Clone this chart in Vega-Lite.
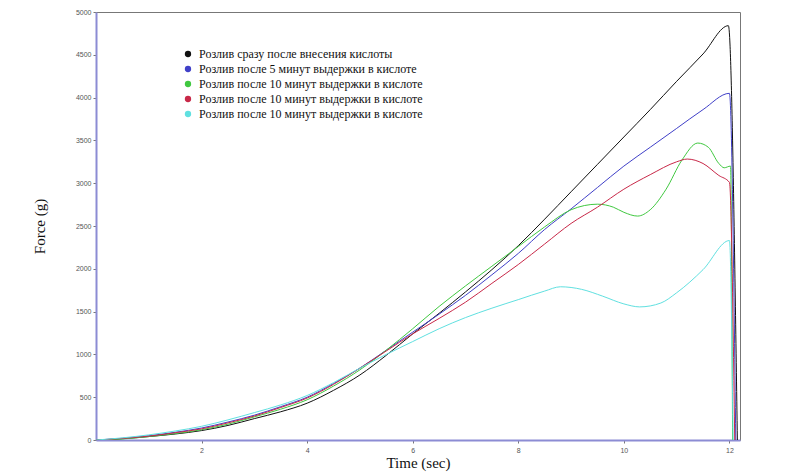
{
  "$schema": "https://vega.github.io/schema/vega-lite/v6.json",
  "width": 644,
  "height": 428,
  "autosize": "none",
  "padding": {"left": 96, "top": 12, "right": 60, "bottom": 34},
  "background": "white",
  "config": {
    "view": {"stroke": "#777777", "strokeWidth": 1},
    "axis": {
      "grid": false,
      "domainColor": "#8c8cd4",
      "domainWidth": 2,
      "tickColor": "#777777",
      "tickSize": 3,
      "labelColor": "#555555",
      "labelFont": "Liberation Sans",
      "labelFontSize": 7,
      "titleFont": "Liberation Serif",
      "titleFontSize": 15,
      "titleFontWeight": "normal",
      "titleColor": "#111111"
    }
  },
  "data": {
    "values": [
      {"s": "s1", "t": 0, "f": 0}, {"s": "s1", "t": 0.5, "f": 15}, {"s": "s1", "t": 1, "f": 40}, {"s": "s1", "t": 1.5, "f": 70},
      {"s": "s1", "t": 2, "f": 110}, {"s": "s1", "t": 2.5, "f": 170}, {"s": "s1", "t": 3, "f": 250}, {"s": "s1", "t": 3.5, "f": 330},
      {"s": "s1", "t": 4, "f": 430}, {"s": "s1", "t": 4.5, "f": 580}, {"s": "s1", "t": 5, "f": 760}, {"s": "s1", "t": 5.5, "f": 990},
      {"s": "s1", "t": 6, "f": 1240}, {"s": "s1", "t": 6.5, "f": 1480}, {"s": "s1", "t": 7, "f": 1730}, {"s": "s1", "t": 7.5, "f": 1990},
      {"s": "s1", "t": 8, "f": 2270}, {"s": "s1", "t": 8.5, "f": 2580}, {"s": "s1", "t": 9, "f": 2900}, {"s": "s1", "t": 9.5, "f": 3220},
      {"s": "s1", "t": 10, "f": 3540}, {"s": "s1", "t": 10.5, "f": 3860}, {"s": "s1", "t": 11, "f": 4190}, {"s": "s1", "t": 11.5, "f": 4510},
      {"s": "s1", "t": 11.98, "f": 4840}, {"s": "s1", "t": 12.15, "f": 0},

      {"s": "s2", "t": 0, "f": 0}, {"s": "s2", "t": 0.5, "f": 20}, {"s": "s2", "t": 1, "f": 50}, {"s": "s2", "t": 1.5, "f": 90},
      {"s": "s2", "t": 2, "f": 140}, {"s": "s2", "t": 2.5, "f": 210}, {"s": "s2", "t": 3, "f": 290}, {"s": "s2", "t": 3.5, "f": 390},
      {"s": "s2", "t": 4, "f": 500}, {"s": "s2", "t": 4.5, "f": 660}, {"s": "s2", "t": 5, "f": 840}, {"s": "s2", "t": 5.5, "f": 1050},
      {"s": "s2", "t": 6, "f": 1260}, {"s": "s2", "t": 6.5, "f": 1470}, {"s": "s2", "t": 7, "f": 1690}, {"s": "s2", "t": 7.5, "f": 1930},
      {"s": "s2", "t": 8, "f": 2180}, {"s": "s2", "t": 8.5, "f": 2460}, {"s": "s2", "t": 9, "f": 2700}, {"s": "s2", "t": 9.5, "f": 2950},
      {"s": "s2", "t": 10, "f": 3200}, {"s": "s2", "t": 10.5, "f": 3420}, {"s": "s2", "t": 11, "f": 3640}, {"s": "s2", "t": 11.5, "f": 3860},
      {"s": "s2", "t": 12, "f": 4050}, {"s": "s2", "t": 12.12, "f": 0},

      {"s": "s3", "t": 0, "f": 0}, {"s": "s3", "t": 0.5, "f": 12}, {"s": "s3", "t": 1, "f": 40}, {"s": "s3", "t": 1.5, "f": 75},
      {"s": "s3", "t": 2, "f": 120}, {"s": "s3", "t": 2.5, "f": 185}, {"s": "s3", "t": 3, "f": 270}, {"s": "s3", "t": 3.5, "f": 360},
      {"s": "s3", "t": 4, "f": 470}, {"s": "s3", "t": 4.5, "f": 630}, {"s": "s3", "t": 5, "f": 820}, {"s": "s3", "t": 5.5, "f": 1050},
      {"s": "s3", "t": 6, "f": 1300}, {"s": "s3", "t": 6.5, "f": 1560}, {"s": "s3", "t": 7, "f": 1800}, {"s": "s3", "t": 7.5, "f": 2030},
      {"s": "s3", "t": 8, "f": 2260}, {"s": "s3", "t": 8.5, "f": 2490}, {"s": "s3", "t": 9, "f": 2690}, {"s": "s3", "t": 9.5, "f": 2755},
      {"s": "s3", "t": 9.8, "f": 2720}, {"s": "s3", "t": 10, "f": 2660}, {"s": "s3", "t": 10.26, "f": 2616}, {"s": "s3", "t": 10.5, "f": 2690},
      {"s": "s3", "t": 10.8, "f": 2930}, {"s": "s3", "t": 11.1, "f": 3270}, {"s": "s3", "t": 11.4, "f": 3469}, {"s": "s3", "t": 11.6, "f": 3420},
      {"s": "s3", "t": 11.8, "f": 3230}, {"s": "s3", "t": 11.9, "f": 3180}, {"s": "s3", "t": 12.02, "f": 3200}, {"s": "s3", "t": 12.06, "f": 0},

      {"s": "s4", "t": 0, "f": 0}, {"s": "s4", "t": 0.5, "f": 18}, {"s": "s4", "t": 1, "f": 45}, {"s": "s4", "t": 1.5, "f": 85},
      {"s": "s4", "t": 2, "f": 130}, {"s": "s4", "t": 2.5, "f": 200}, {"s": "s4", "t": 3, "f": 280}, {"s": "s4", "t": 3.5, "f": 380},
      {"s": "s4", "t": 4, "f": 490}, {"s": "s4", "t": 4.5, "f": 650}, {"s": "s4", "t": 5, "f": 840}, {"s": "s4", "t": 5.5, "f": 1040},
      {"s": "s4", "t": 6, "f": 1240}, {"s": "s4", "t": 6.5, "f": 1420}, {"s": "s4", "t": 7, "f": 1610}, {"s": "s4", "t": 7.5, "f": 1830},
      {"s": "s4", "t": 8, "f": 2050}, {"s": "s4", "t": 8.5, "f": 2290}, {"s": "s4", "t": 9, "f": 2530}, {"s": "s4", "t": 9.5, "f": 2720},
      {"s": "s4", "t": 10, "f": 2930}, {"s": "s4", "t": 10.5, "f": 3100}, {"s": "s4", "t": 11, "f": 3250}, {"s": "s4", "t": 11.2, "f": 3282},
      {"s": "s4", "t": 11.5, "f": 3230}, {"s": "s4", "t": 11.8, "f": 3090}, {"s": "s4", "t": 12, "f": 3010}, {"s": "s4", "t": 12.1, "f": 0},

      {"s": "s5", "t": 0, "f": 0}, {"s": "s5", "t": 0.5, "f": 25}, {"s": "s5", "t": 1, "f": 60}, {"s": "s5", "t": 1.5, "f": 105},
      {"s": "s5", "t": 2, "f": 160}, {"s": "s5", "t": 2.5, "f": 235}, {"s": "s5", "t": 3, "f": 320}, {"s": "s5", "t": 3.5, "f": 410},
      {"s": "s5", "t": 4, "f": 520}, {"s": "s5", "t": 4.5, "f": 670}, {"s": "s5", "t": 5, "f": 840}, {"s": "s5", "t": 5.5, "f": 1000},
      {"s": "s5", "t": 6, "f": 1150}, {"s": "s5", "t": 6.5, "f": 1300}, {"s": "s5", "t": 7, "f": 1430}, {"s": "s5", "t": 7.5, "f": 1540},
      {"s": "s5", "t": 8, "f": 1640}, {"s": "s5", "t": 8.5, "f": 1740}, {"s": "s5", "t": 8.8, "f": 1790}, {"s": "s5", "t": 9.2, "f": 1760},
      {"s": "s5", "t": 9.6, "f": 1680}, {"s": "s5", "t": 10, "f": 1590}, {"s": "s5", "t": 10.3, "f": 1555}, {"s": "s5", "t": 10.7, "f": 1600},
      {"s": "s5", "t": 11, "f": 1720}, {"s": "s5", "t": 11.5, "f": 1990}, {"s": "s5", "t": 12, "f": 2330}, {"s": "s5", "t": 12.07, "f": 0}
    ]
  },
  "mark": {"type": "line", "interpolate": "monotone", "strokeWidth": 1, "clip": true},
  "encoding": {
    "x": {
      "field": "t",
      "type": "quantitative",
      "title": "Time (sec)",
      "scale": {"domain": [0, 12.2], "nice": false, "zero": false},
      "axis": {"values": [2, 4, 6, 8, 10, 12], "format": "d", "labelPadding": 3, "titlePadding": 2}
    },
    "y": {
      "field": "f",
      "type": "quantitative",
      "title": "Force (g)",
      "scale": {"domain": [0, 5000], "nice": false},
      "axis": {"values": [0, 500, 1000, 1500, 2000, 2500, 3000, 3500, 4000, 4500, 5000], "format": "d", "labelPadding": 2, "titlePadding": 28}
    },
    "color": {
      "field": "s",
      "type": "nominal",
      "scale": {
        "domain": ["s1", "s2", "s3", "s4", "s5"],
        "range": ["#111111", "#4040c8", "#40c840", "#c82848", "#60e0e0"]
      },
      "legend": {
        "orient": "none",
        "legendX": 86,
        "legendY": 36,
        "title": null,
        "symbolType": "circle",
        "symbolSize": 40,
        "symbolOpacity": 1,
        "labelFont": "Liberation Serif",
        "labelFontSize": 12,
        "labelColor": "#111111",
        "labelLimit": 400,
        "labelOffset": 5,
        "rowPadding": 3,
        "labelExpr": "datum.value == 's1' ? 'Розлив сразу после внесения кислоты' : datum.value == 's2' ? 'Розлив после 5 минут выдержки в кислоте' : 'Розлив после 10 минут выдержки в кислоте'",
        "encode": {
          "symbols": {
            "update": {
              "fill": {"scale": "color", "field": "value"},
              "fillOpacity": {"value": 1},
              "strokeWidth": {"value": 0}
            }
          }
        }
      }
    }
  }
}
